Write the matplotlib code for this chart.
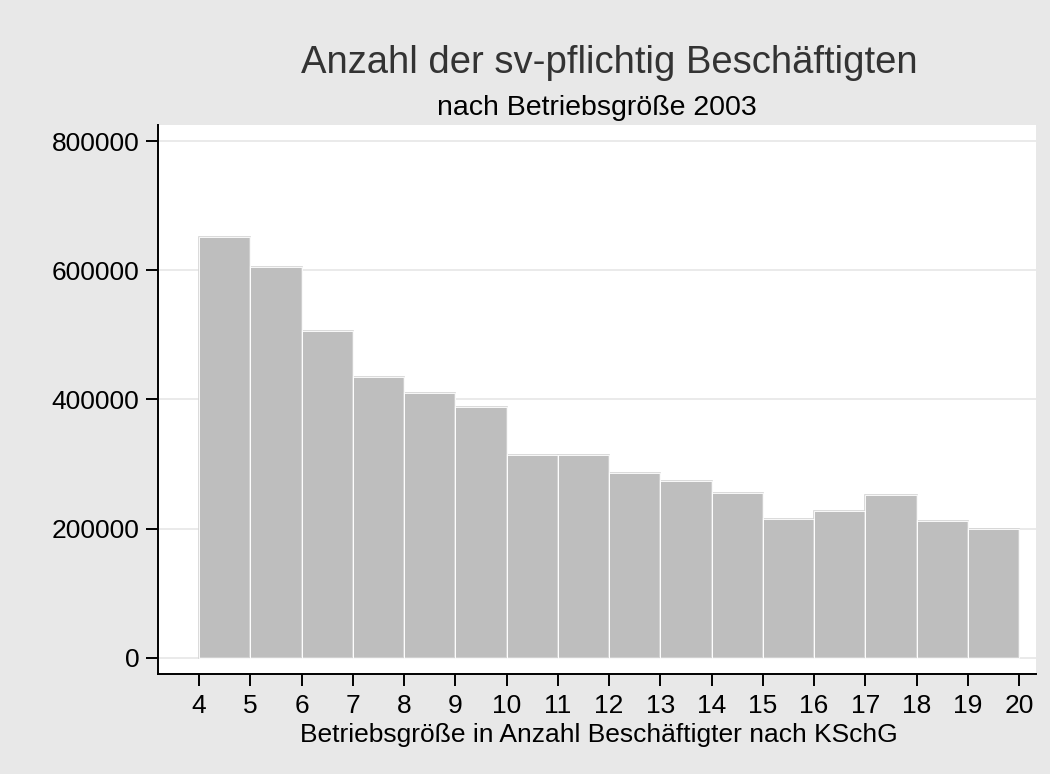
import numpy as np
import matplotlib.pyplot as plt

plt.rcParams['font.family'] = ['Liberation Sans', 'DejaVu Sans']

# Betriebsgröße (lower edge of each bin) and number of employees
groesse = [4, 5, 6, 7, 8, 9, 10, 11, 12, 13, 14, 15, 16, 17, 18, 19]
beschaeftigte = [651000, 605000, 506000, 435000, 410000, 388000, 314000, 314000,
                 286000, 274000, 255000, 215000, 228000, 252000, 212000, 200000]
yticks = [0, 200000, 400000, 600000, 800000]
xticks = list(range(4, 21))

fig = plt.figure(figsize=(10.5, 7.74), dpi=100)
fig.patch.set_facecolor('#e8e8e8')
ax = fig.add_axes([158/1050, 1 - 674/774, (1036-158)/1050, (674-125)/774])
ax.set_facecolor('white')

ax.bar(groesse, beschaeftigte, width=1, align='edge', color='#bebebe',
       edgecolor='#d4d4d4', linewidth=1.2, zorder=2)
# white gaps between bars
ax.bar(groesse, beschaeftigte, width=1, align='edge', fill=False,
       edgecolor='white', linewidth=0.6, zorder=3)

ax.set_xlim(3.2, 20.33)
ax.set_ylim(-25000, 825000)
ax.set_yticks(yticks)
ax.set_yticklabels([str(v) for v in yticks])
ax.set_xticks(xticks)
ax.grid(axis='y', color='#e6e6e6', linewidth=1.2, zorder=0)
ax.set_axisbelow(True)

for s in ['top', 'right']:
    ax.spines[s].set_visible(False)
for s in ['left', 'bottom']:
    ax.spines[s].set_linewidth(1.4)
ax.tick_params(axis='both', length=8.5, width=1.4, labelsize=19, direction='out')
ax.tick_params(axis='x', pad=6)
ax.tick_params(axis='y', pad=5)

fig.text(599/1050, 1 - 742/774, 'Betriebsgröße in Anzahl Beschäftigter nach KSchG',
         ha='center', va='baseline', fontsize=19)

fig.text(609/1050, 1 - 73/774, 'Anzahl der sv-pflichtig Beschäftigten',
         ha='center', va='baseline', fontsize=27.5, color='#333333')
fig.text(597/1050, 1 - 115/774, 'nach Betriebsgröße 2003',
         ha='center', va='baseline', fontsize=20.5)

fig.savefig('out.png', dpi=100, facecolor=fig.get_facecolor())
